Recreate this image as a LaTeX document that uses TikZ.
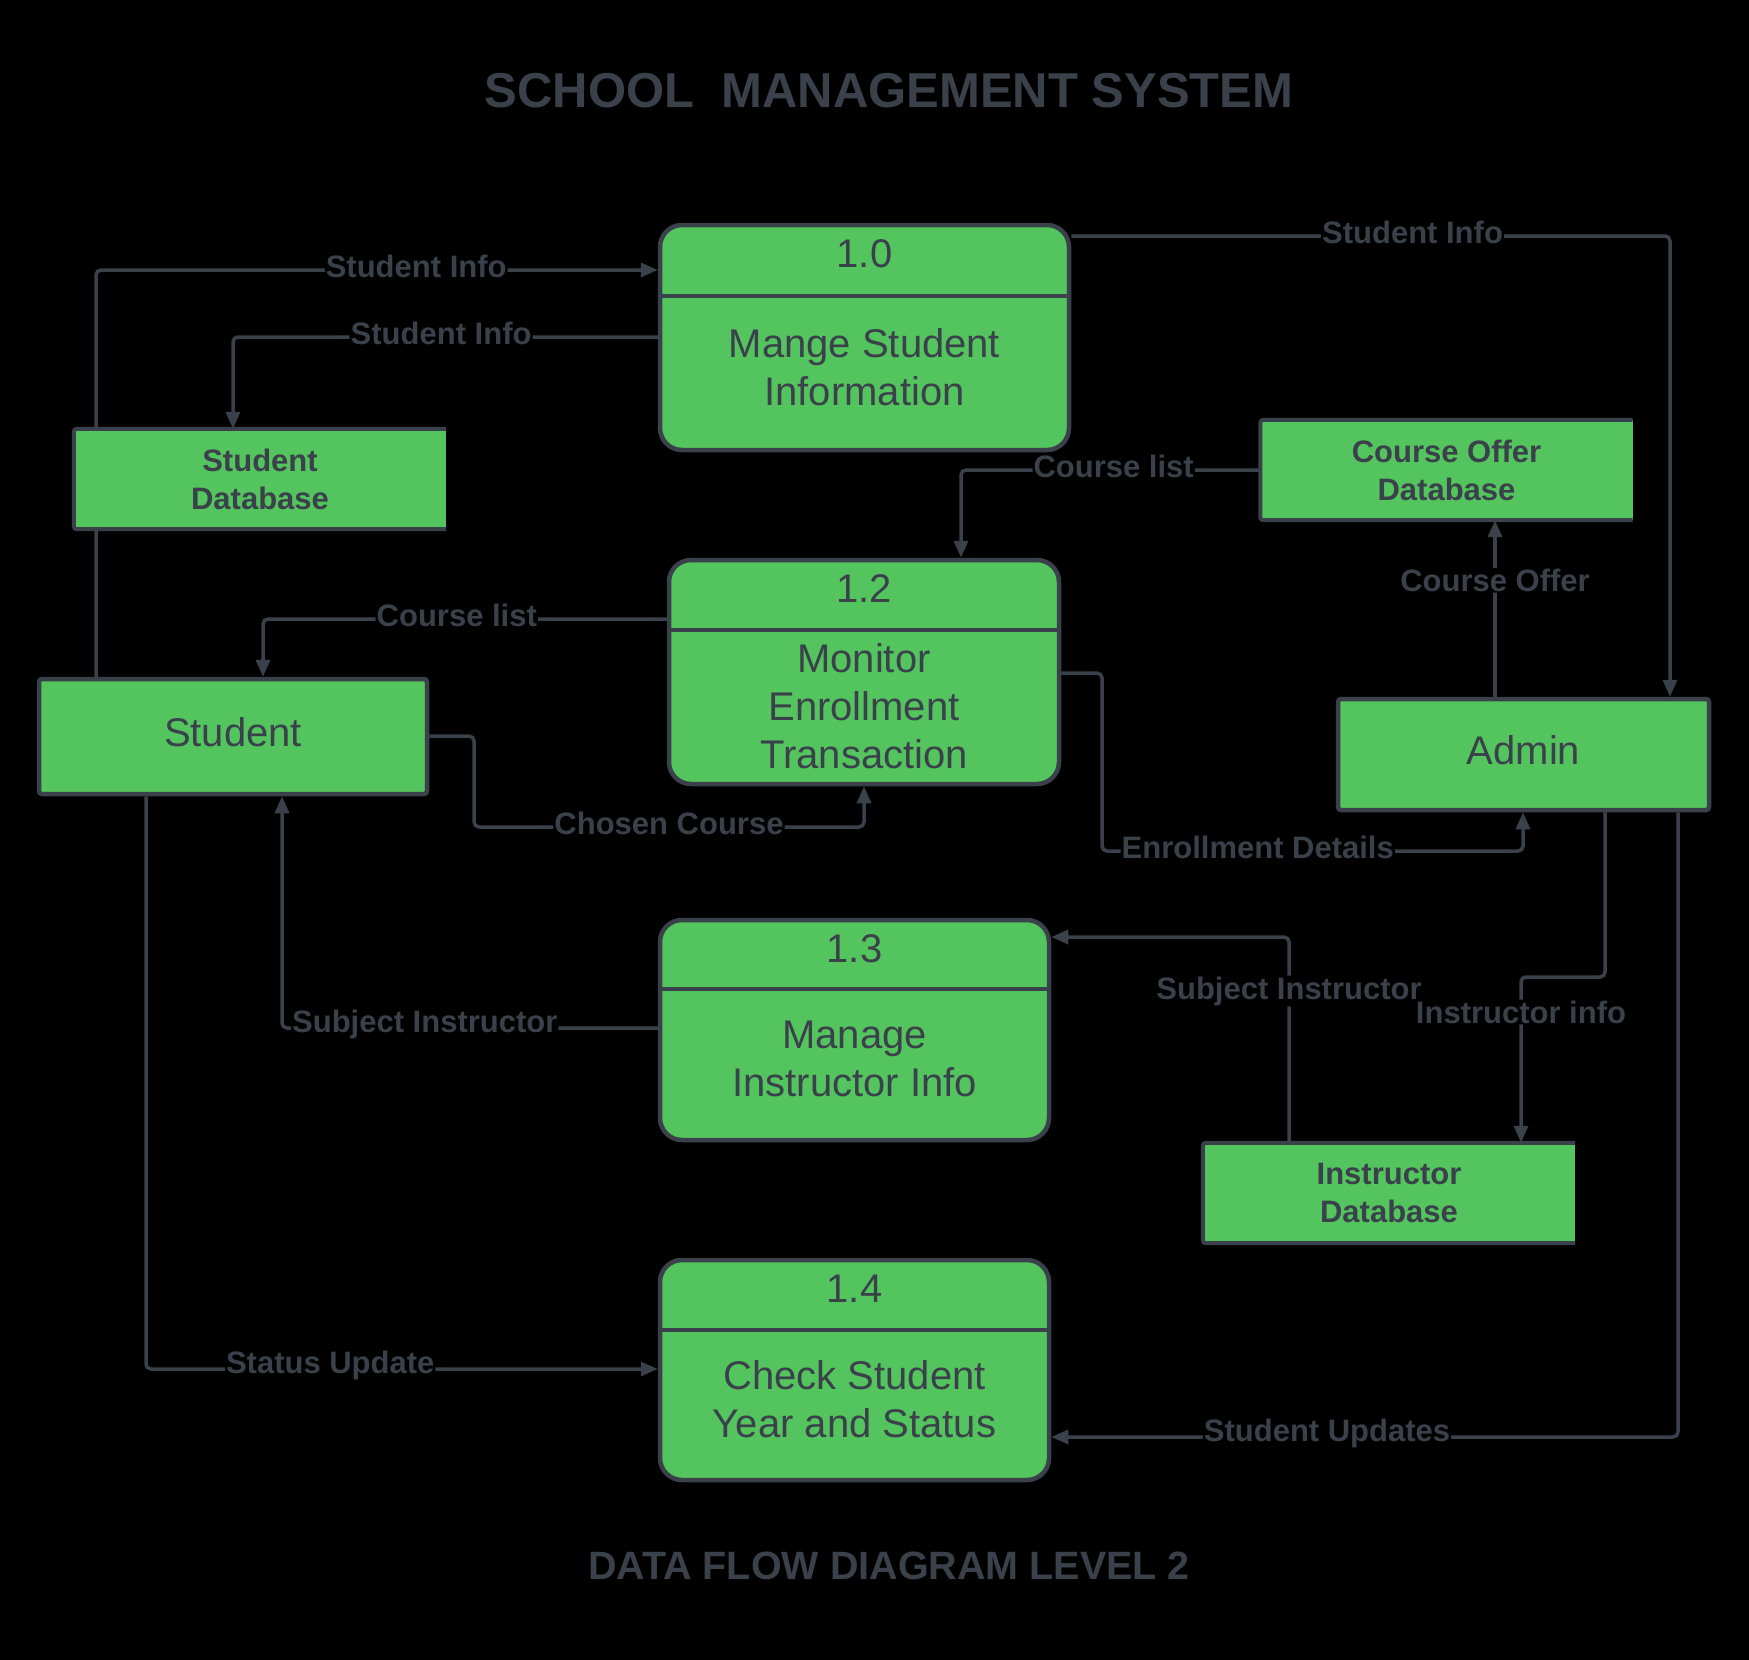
\documentclass[tikz,border=0pt]{standalone}
\usepackage{fontspec}
\setmainfont{Liberation Sans}
\usetikzlibrary{arrows.meta}
\definecolor{boxgreen}{RGB}{84,196,94}
\definecolor{ink}{RGB}{58,65,74}
\pgfdeclarelayer{canvas}
\pgfdeclarelayer{flows}
\pgfsetlayers{canvas,flows,main}

\begin{document}
\begin{tikzpicture}[x=1pt, y=-1pt,
    proc/.style={draw=ink, fill=boxgreen, line width=4.5pt, rounded corners=22pt, inner sep=0pt},
    entity/.style={draw=ink, fill=boxgreen, line width=4.5pt, rounded corners=3pt, inner sep=0pt,
      text depth=10pt, text=ink, font=\fontsize{40}{48}\selectfont},
    store/.style={fill=boxgreen, inner sep=0pt, minimum width=372pt, minimum height=100pt,
      align=center, text=ink, font=\bfseries\fontsize{31}{38}\selectfont},
    storeedge/.style={draw=ink, line width=4pt, rounded corners=3pt},
    divider/.style={draw=ink, line width=4.5pt},
    procnum/.style={text=ink, font=\fontsize{40}{48}\selectfont},
    proctext/.style={text=ink, align=center, font=\fontsize{40}{48}\selectfont},
    flow/.style={draw=ink, line width=3.5pt, rounded corners=5pt, -{Triangle[length=17pt,width=14pt]}},
    lbl/.style={fill=black, text=ink, inner xsep=1pt, inner ysep=1pt, yshift=4pt,
      font=\bfseries\fontsize{31}{37}\selectfont},
    heading/.style={text=ink, font=\bfseries\fontsize{49}{58}\selectfont},
  ]
  \begin{pgfonlayer}{canvas}
    \fill[black] (0,0) rectangle (1749,1660);
  \end{pgfonlayer}
  \useasboundingbox (0,0) rectangle (1749,1660);

  % titles
  \node[heading] (ttl) at (889,91) {SCHOOL\ \ MANAGEMENT SYSTEM};
  \node[heading, font=\bfseries\fontsize{39.5}{47}\selectfont] (sub) at (889,1566) {DATA FLOW DIAGRAM LEVEL 2};

  % processes
  \node[proc, minimum width=409pt, minimum height=225pt] (p10) at (864.5,337.5) {};
  \draw[divider] (p10.west |- 0,296) -- (p10.east |- 0,296);
  \node[procnum] (n10) at (p10.center |- 0,254) {1.0};
  \node[proctext] (t10) at (p10.center |- 0,367) {Mange Student\\Information};

  \node[proc, minimum width=390pt, minimum height=224pt] (p12) at (864,672) {};
  \draw[divider] (p12.west |- 0,630) -- (p12.east |- 0,630);
  \node[procnum] (n12) at (p12.center |- 0,589) {1.2};
  \node[proctext] (t12) at (p12.center |- 0,706) {Monitor\\Enrollment\\Transaction};

  \node[proc, minimum width=389pt, minimum height=220pt] (p13) at (854.5,1030) {};
  \draw[divider] (p13.west |- 0,989) -- (p13.east |- 0,989);
  \node[procnum] (n13) at (p13.center |- 0,949) {1.3};
  \node[proctext] (t13) at (p13.center |- 0,1059) {Manage\\Instructor Info};

  \node[proc, minimum width=389pt, minimum height=220pt] (p14) at (854.5,1370) {};
  \draw[divider] (p14.west |- 0,1330) -- (p14.east |- 0,1330);
  \node[procnum] (n14) at (p14.center |- 0,1289) {1.4};
  \node[proctext] (t14) at (p14.center |- 0,1399) {Check Student\\Year and Status};

  % external entities
  \node[entity, minimum width=388pt, minimum height=115pt] (stu) at (233,736.5) {Student};
  \node[entity, minimum width=371pt, minimum height=111pt] (adm) at (1523.5,754.5) {Admin};

  % data stores (open on the right)
  \node[store] (sdb) at (260,479) {Student\\Database};
  \node[store] (cdb) at (1446.5,470) {Course Offer\\Database};
  \node[store] (idb) at (1389,1193) {Instructor\\Database};
  \foreach \s in {sdb,cdb,idb}
    \draw[storeedge] (\s.north east) -- (\s.north west) -- (\s.south west) -- (\s.south east);

  % data flows
  \begin{pgfonlayer}{flows}
    \draw[flow] (stu.north -| 96,0) -- (96,270) -- node[lbl,pos=0.57]{Student Info} (p10.west |- 0,270);
    \draw[flow] (p10.west |- 0,337) -- node[lbl,pos=0.51]{Student Info} (233,337) -- (sdb.north -| 233,0);
    \draw[flow] (p10.east |- 0,236) -- node[lbl,pos=0.57]{Student Info} (1670,236) -- (adm.north -| 1670,0);
    \draw[flow] (cdb.west |- 0,470) -- node[lbl,pos=0.49]{Course list} (961,470) -- (p12.north -| 961,0);
    \draw[flow] (adm.north -| 1495,0) -- node[lbl,pos=0.637]{Course Offer} (cdb.south -| 1495,0);
    \draw[flow] (p12.west |- 0,619) -- node[lbl,pos=0.52]{Course list} (263,619) -- (stu.north -| 263,0);
    \draw[flow] (stu.east |- 0,736) -- (474,736) -- (474,827) -- node[lbl,pos=0.5]{Chosen Course} (864,827) -- (p12.south -| 864,0);
    \draw[flow] (p12.east |- 0,673) -- (1102,673) -- (1102,851) -- node[lbl,pos=0.37]{Enrollment Details} (1523,851) -- (adm.south -| 1523,0);
    \draw[flow] (p13.west |- 0,1028) -- node[lbl,pos=0.62]{Subject Instructor} (282,1028) -- (stu.south -| 282,0);
    \draw[flow] (idb.north -| 1289,0) -- node[lbl,pos=0.718]{Subject Instructor} (1289,937) -- (p13.east |- 0,937);
    \draw[flow] (adm.south -| 1605,0) -- (1605,977) -- (1521,977) -- node[lbl,pos=0.235]{Instructor info} (idb.north -| 1521,0);
    \draw[flow] (stu.south -| 146,0) -- (146,1369) -- node[lbl,pos=0.36]{Status Update} (p14.west |- 0,1369);
    \draw[flow] (adm.south -| 1678,0) -- (1678,1437) -- node[lbl,pos=0.56]{Student Updates} (p14.east |- 0,1437);
  \end{pgfonlayer}
\end{tikzpicture}
\end{document}
